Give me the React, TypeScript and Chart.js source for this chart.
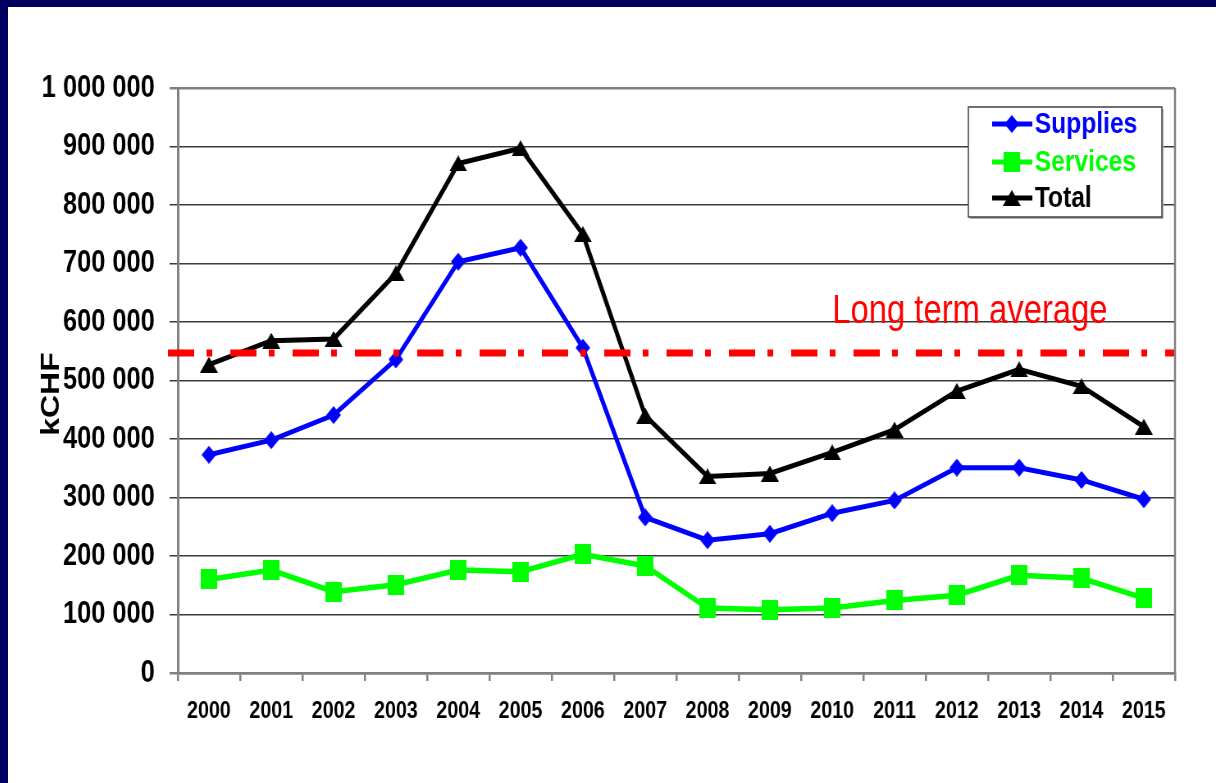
import React, { useEffect, useRef } from "react";
import { Chart, registerables } from "chart.js";

Chart.register(...registerables);

const years = ["2000", "2001", "2002", "2003", "2004", "2005", "2006", "2007", "2008", "2009", "2010", "2011", "2012", "2013", "2014", "2015"];
const supplies = [373000, 398000, 441000, 536000, 703000, 727000, 556000, 266000, 227000, 238000, 273000, 295000, 351000, 351000, 330000, 297000];
const services = [160000, 176000, 139000, 151000, 176000, 173000, 203000, 183000, 111000, 108000, 111000, 124000, 133000, 167000, 162000, 128000];
const total = [527000, 568000, 571000, 683000, 871000, 897000, 750000, 440000, 336000, 341000, 377000, 416000, 482000, 519000, 490000, 421000];
const longTermAverage = 547000;
const averageLabel = "Long term average";
const yAxisTitle = "kCHF";
const yMin = 0;
const yMax = 1000000;
const yStep = 100000;
const seriesNames = ["Supplies", "Services", "Total"];
const seriesColors = ["#0000ff", "#00ff00", "#000000"];

// The slide renders everything horizontally condensed (like Arial Narrow);
// the canvas is drawn wider and displayed squeezed to reproduce that.
const SQUEEZE = 0.82;
const DISPLAY_W = 1208;
const DISPLAY_H = 776;
const INNER_W = Math.round(DISPLAY_W / SQUEEZE);

const FONT = "'Liberation Sans', Arial, sans-serif";

function makeMarker(kind: string, color: string, w: number, h: number) {
  const c = document.createElement("canvas");
  c.width = w;
  c.height = h;
  const g = c.getContext("2d")!;
  g.fillStyle = color;
  g.beginPath();
  if (kind === "diamond") {
    g.moveTo(w / 2, 0);
    g.lineTo(w, h / 2);
    g.lineTo(w / 2, h);
    g.lineTo(0, h / 2);
  } else if (kind === "square") {
    g.rect(0, 0, w, h);
  } else {
    g.moveTo(w / 2, 0);
    g.lineTo(w, h);
    g.lineTo(0, h);
  }
  g.closePath();
  g.fill();
  return c;
}

const fmt = (v: number) => String(v).replace(/\B(?=(\d{3})+(?!\d))/g, " ");

export default function App() {
  const ref = useRef<HTMLCanvasElement | null>(null);

  useEffect(() => {
    const canvas = ref.current;
    if (!canvas) return;
    const markers = [
      makeMarker("diamond", seriesColors[0], 18, 18),
      makeMarker("square", seriesColors[1], 20, 20),
      makeMarker("triangle", seriesColors[2], 22, 16),
    ];

    const decor = {
      id: "decor",
      afterDatasetsDraw(chart: any) {
        const { ctx, chartArea } = chart;
        const y = chart.scales.y.getPixelForValue(longTermAverage);
        ctx.save();
        ctx.strokeStyle = "#ff0000";
        ctx.lineWidth = 7;
        ctx.lineCap = "butt";
        ctx.setLineDash([32, 15, 7, 22]);
        ctx.beginPath();
        ctx.moveTo(chartArea.left - 12, y);
        ctx.lineTo(chartArea.right, y);
        ctx.stroke();
        ctx.setLineDash([]);
        ctx.fillStyle = "#ff0000";
        ctx.font = `40px ${FONT}`;
        ctx.textAlign = "left";
        ctx.textBaseline = "alphabetic";
        ctx.fillText(averageLabel, chartArea.left + 798, y - 30);
        ctx.restore();
      },
      afterDraw(chart: any) {
        const { ctx, chartArea } = chart;
        ctx.save();
        // right plot border
        ctx.strokeStyle = "#808080";
        ctx.lineWidth = 2.5;
        ctx.beginPath();
        ctx.moveTo(chartArea.right, chartArea.top);
        ctx.lineTo(chartArea.right, chartArea.bottom);
        ctx.stroke();

        // y axis title
        ctx.save();
        ctx.translate(chartArea.left - 154, 387);
        ctx.rotate(-Math.PI / 2);
        ctx.fillStyle = "#000";
        ctx.font = `bold 32px ${FONT}`;
        ctx.textAlign = "center";
        ctx.textBaseline = "middle";
        ctx.fillText(yAxisTitle, 0, 0);
        ctx.restore();

        // legend
        const bx = chartArea.right - 252;
        const by = chartArea.top + 19;
        const bw = 236;
        const bh = 110;
        ctx.fillStyle = "#b0b0b0";
        ctx.fillRect(bx + 2, by + 2, bw, bh);
        ctx.fillStyle = "#ffffff";
        ctx.fillRect(bx, by, bw, bh);
        ctx.strokeStyle = "#404040";
        ctx.lineWidth = 1.5;
        ctx.strokeRect(bx, by, bw, bh);
        const rows = [17, 55, 91];
        for (let i = 0; i < seriesNames.length; i++) {
          const cy = by + rows[i];
          ctx.strokeStyle = seriesColors[i];
          ctx.lineWidth = 5;
          ctx.beginPath();
          ctx.moveTo(bx + 29, cy);
          ctx.lineTo(bx + 78, cy);
          ctx.stroke();
          const m = markers[i];
          ctx.drawImage(m, bx + 53 - m.width / 2, cy - m.height / 2);
          ctx.fillStyle = seriesColors[i];
          ctx.font = `bold 30px ${FONT}`;
          ctx.textAlign = "left";
          ctx.textBaseline = "middle";
          ctx.fillText(seriesNames[i], bx + 81, cy + 1);
        }
        ctx.restore();
      },
    };

    const data = [supplies, services, total];
    const chart = new Chart(canvas, {
      type: "line",
      data: {
        labels: years,
        datasets: data.map((d, i) => ({
          label: seriesNames[i],
          data: d,
          borderColor: seriesColors[i],
          backgroundColor: seriesColors[i],
          borderWidth: i === 1 ? 5.5 : 5,
          pointStyle: markers[i] as any,
          pointRadius: 9,
          tension: 0,
          fill: false,
        })),
      },
      options: {
        animation: false,
        responsive: false,
        devicePixelRatio: 1,
        layout: { padding: { top: 81, right: INNER_W - Math.round(1167 / SQUEEZE), left: 0, bottom: 0 } },
        plugins: { legend: { display: false }, tooltip: { enabled: false } },
        scales: {
          x: {
            type: "category",
            offset: true,
            grid: { offset: true, drawOnChartArea: false, drawTicks: true, tickLength: 8, color: "#808080", lineWidth: 2.5 },
            border: { color: "#808080", width: 2.5 },
            ticks: { font: { family: FONT, size: 24, weight: "bold" }, color: "#000", padding: 16, maxRotation: 0, autoSkip: false },
            afterFit: (s: any) => {
              s.height = 110;
            },
          },
          y: {
            min: yMin,
            max: yMax,
            ticks: {
              stepSize: yStep,
              autoSkip: false,
              callback: (v: any) => fmt(Number(v)),
              font: { family: FONT, size: 31, weight: "bold" },
              color: "#000",
              padding: 18,
            },
            grid: {
              tickLength: 10,
              color: (c: any) => (c.tick && (c.tick.value === yMax || c.tick.value === yMin) ? "#808080" : "#3a3a3a"),
              lineWidth: (c: any) => (c.tick && (c.tick.value === yMax || c.tick.value === yMin) ? 2.5 : 1.5),
            },
            border: { color: "#808080", width: 3 },
            afterFit: (s: any) => {
              s.width = Math.round(170 / SQUEEZE);
            },
          },
        },
      },
      plugins: [decor],
    } as any);
    return () => chart.destroy();
  }, []);

  return (
    <div style={{ position: "fixed", left: 0, top: 0, right: 0, bottom: 0, background: "#000060" }}>
      <div style={{ position: "absolute", left: 8, top: 7, right: 0, bottom: 0, background: "#ffffff" }}>
        <canvas
          ref={ref}
          width={INNER_W}
          height={DISPLAY_H}
          style={{ display: "block", width: DISPLAY_W + "px", height: DISPLAY_H + "px" }}
        />
      </div>
    </div>
  );
}
